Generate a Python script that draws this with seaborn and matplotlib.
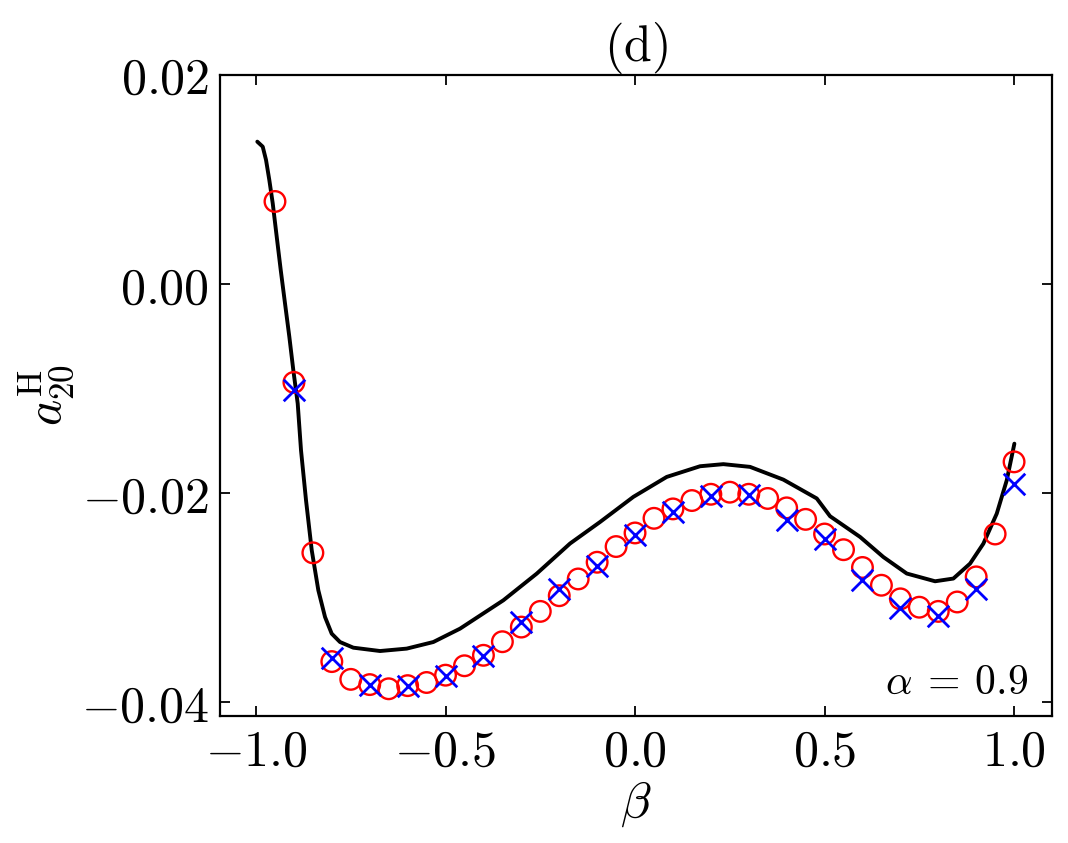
import numpy as np
import pandas as pd
import matplotlib
matplotlib.use('Agg')
import matplotlib.pyplot as plt
import matplotlib.ticker as mticker
import seaborn as sns

# data
beta_circ = [-0.95, -0.90, -0.85, -0.80, -0.75, -0.70, -0.65, -0.60, -0.55, -0.50,
             -0.45, -0.40, -0.35, -0.30, -0.25, -0.20, -0.15, -0.10, -0.05, 0.00,
             0.05, 0.10, 0.15, 0.20, 0.25, 0.30, 0.35, 0.40, 0.45, 0.50,
             0.55, 0.60, 0.65, 0.70, 0.75, 0.80, 0.85, 0.90, 0.95, 1.00]
a_circ = [0.0079, -0.0094, -0.0257, -0.0361, -0.0378, -0.0383, -0.0387, -0.0384, -0.0381, -0.0374,
          -0.0365, -0.0355, -0.0342, -0.0328, -0.0313, -0.0298, -0.0282, -0.0266, -0.0251, -0.0238,
          -0.0224, -0.0215, -0.0207, -0.0201, -0.0199, -0.0201, -0.0205, -0.0214, -0.0225, -0.0239,
          -0.0254, -0.0271, -0.0288, -0.0301, -0.0309, -0.0313, -0.0304, -0.0280, -0.0239, -0.0170]

beta_x = [-0.9, -0.8, -0.7, -0.6, -0.5, -0.4, -0.3, -0.2, -0.1, 0.0,
          0.1, 0.2, 0.3, 0.4, 0.5, 0.6, 0.7, 0.8, 0.9, 1.0]
a_x = [-0.0101, -0.0358, -0.0383, -0.0384, -0.0375, -0.0356, -0.0323, -0.0292, -0.0270, -0.0240,
       -0.0218, -0.0203, -0.0202, -0.0226, -0.0244, -0.0283, -0.0310, -0.0317, -0.0292, -0.0191]

beta_line = [-0.9966, -0.9823, -0.9736, -0.9649, -0.9559, -0.9454, -0.9348, -0.9235, -0.9121, -0.9016,
             -0.8900, -0.8813, -0.8681, -0.8530, -0.8356, -0.8179, -0.8003, -0.7784, -0.7433, -0.6728,
             -0.6024, -0.5322, -0.4617, -0.3475, -0.2594, -0.1715, -0.0923, -0.0045, 0.0836, 0.1715,
             0.2330, 0.3034, 0.3913, 0.4794, 0.5145, 0.5937, 0.6551, 0.7169, 0.7916, 0.8398,
             0.8839, 0.9190, 0.9543, 0.9807, 1.0008]
a_line = [0.01362, 0.01314, 0.01187, 0.00995, 0.00772, 0.00453, 0.00134, -0.00185, -0.00504, -0.00823,
          -0.01142, -0.01589, -0.02067, -0.02545, -0.02928, -0.03184, -0.03343, -0.03423, -0.03477, -0.03509,
          -0.03486, -0.03423, -0.03295, -0.03024, -0.02769, -0.02481, -0.02275, -0.02035, -0.01844, -0.01742,
          -0.01722, -0.01748, -0.01870, -0.02050, -0.02220, -0.02418, -0.02610, -0.02768, -0.02842, -0.02816,
          -0.02673, -0.02482, -0.02195, -0.01876, -0.01526]

sns.set_style('ticks')
plt.rcParams['mathtext.fontset'] = 'cm'
plt.rcParams['font.family'] = ['DejaVu Serif']
plt.rcParams['text.color'] = 'black'
plt.rcParams['axes.labelcolor'] = 'black'
plt.rcParams['xtick.color'] = 'black'
plt.rcParams['ytick.color'] = 'black'

fig = plt.figure(figsize=(10.68, 8.43), dpi=100)
ax = fig.add_axes([0.206, 0.1507, 0.779, 0.7604])

sns.lineplot(x=beta_line, y=a_line, ax=ax, color='black', linewidth=2.8, sort=False)
sns.scatterplot(x=beta_circ, y=a_circ, ax=ax, marker='o', s=220, facecolors='none',
                edgecolor='red', linewidth=1.7, zorder=3)
sns.scatterplot(x=beta_x, y=a_x, ax=ax, marker='x', s=240, color='blue',
                linewidth=2.0, zorder=4)

ax.set_xlim(-1.095, 1.10)
ax.set_ylim(-0.0413, 0.02)
ax.set_xticks([-1.0, -0.5, 0.0, 0.5, 1.0])
ax.set_yticks([-0.04, -0.02, 0.00, 0.02])
ax.xaxis.set_major_formatter(mticker.FuncFormatter(lambda v, p: r'$%.1f$' % v if abs(v) > 1e-9 else r'$0.0$'))
ax.yaxis.set_major_formatter(mticker.FuncFormatter(lambda v, p: r'$%.2f$' % v if abs(v) > 1e-9 else r'$0.00$'))
ax.tick_params(direction='in', length=7, width=1.3, labelsize=36, top=True, right=True, pad=8,
               colors='black')
for sp in ax.spines.values():
    sp.set_linewidth(1.6)
    sp.set_color('black')

ax.set_xlabel(r'$\beta$', fontsize=36, labelpad=2, color='black')
ax.set_ylabel(r'$a_{20}^{\mathrm{H}}$', fontsize=36, labelpad=4, color='black')
ax.set_title(r'$\mathrm{(d)}$', fontsize=36, pad=10, color='black')
ax.text(0.971, 0.02, r'$\alpha\:=\:0.9$', transform=ax.transAxes, fontsize=30,
        ha='right', va='bottom', color='black')

fig.savefig('out.png', dpi=100)
